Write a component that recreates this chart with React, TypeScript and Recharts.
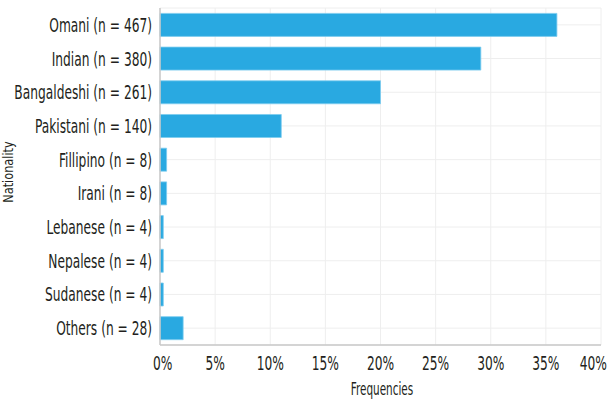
import React from 'react'
import { BarChart, Bar, XAxis, YAxis, CartesianGrid } from 'recharts'

// nationality labels as printed on the axis
const categories = [
  'Omani (n = 467)',
  'Indian (n = 380)',
  'Bangaldeshi (n = 261)',
  'Pakistani (n = 140)',
  'Fillipino (n = 8)',
  'Irani (n = 8)',
  'Lebanese (n = 4)',
  'Nepalese (n = 4)',
  'Sudanese (n = 4)',
  'Others (n = 28)'
]

// share of respondents, in percent
const frequencies = [36.0, 29.1, 20.0, 11.0, 0.6, 0.6, 0.3, 0.3, 0.3, 2.1]

const xTicks = [0, 5, 10, 15, 20, 25, 30, 35, 40]

const data = categories.map((name, i) => ({ name, value: frequencies[i] }))

const font = '"DejaVu Sans Condensed", sans-serif'
const textColor = '#231f20'
// the reference uses a very narrow face, so squeeze the text horizontally
const squeeze = 0.68

function YTick(props: any) {
  const { x, y, payload } = props
  return (
    <g transform={`translate(${x},${y}) scale(${squeeze},1)`}>
      <text x={0} y={0} dy={7} textAnchor="end" fontFamily={font} fontSize={20} fill={textColor}>
        {payload.value}
      </text>
    </g>
  )
}

function XTick(props: any) {
  const { x, y, payload, index } = props
  // end labels are pulled inward so they stay on the page
  let anchor = 'middle'
  let dx = 0
  if (index === 0) {
    anchor = 'start'
    dx = -7
  } else if (index === xTicks.length - 1) {
    anchor = 'end'
    dx = 6
  }
  return (
    <g transform={`translate(${x + dx},${y}) scale(${squeeze},1)`}>
      <text x={0} y={0} dy={17} textAnchor={anchor} fontFamily={font} fontSize={20} fill={textColor}>
        {`${payload.value}%`}
      </text>
    </g>
  )
}

export default function App() {
  return (
    <div style={{ position: 'absolute', left: 0, top: 0, width: 612, height: 406, background: '#fff' }}>
      <BarChart
        width={612}
        height={406}
        data={data}
        layout="vertical"
        margin={{ top: 8, right: 11, left: 0, bottom: 0 }}
        barCategoryGap="16%"
      >
        <CartesianGrid stroke="#eeeeee" />
        <XAxis
          type="number"
          domain={[0, 40]}
          ticks={xTicks}
          tickLine={false}
          axisLine={{ stroke: '#c8c8c8', strokeWidth: 1.5 }}
          tick={<XTick />}
          height={61}
        />
        <YAxis
          type="category"
          dataKey="name"
          width={160}
          tickLine={false}
          axisLine={{ stroke: '#c8c8c8', strokeWidth: 1.5 }}
          tick={<YTick />}
          interval={0}
        />
        <Bar dataKey="value" fill="#29a9e1" stroke="#7ccbef" strokeWidth={0.8} isAnimationActive={false} />
        <g transform="translate(382,395) scale(0.645,1)">
          <text x={0} y={0} textAnchor="middle" fontFamily={font} fontSize={18} fill={textColor}>
            Frequencies
          </text>
        </g>
        <g transform="translate(13,172) rotate(-90) scale(0.9,1)">
          <text x={0} y={0} textAnchor="middle" fontFamily={font} fontSize={14} fill={textColor}>
            Nationality
          </text>
        </g>
      </BarChart>
    </div>
  )
}
